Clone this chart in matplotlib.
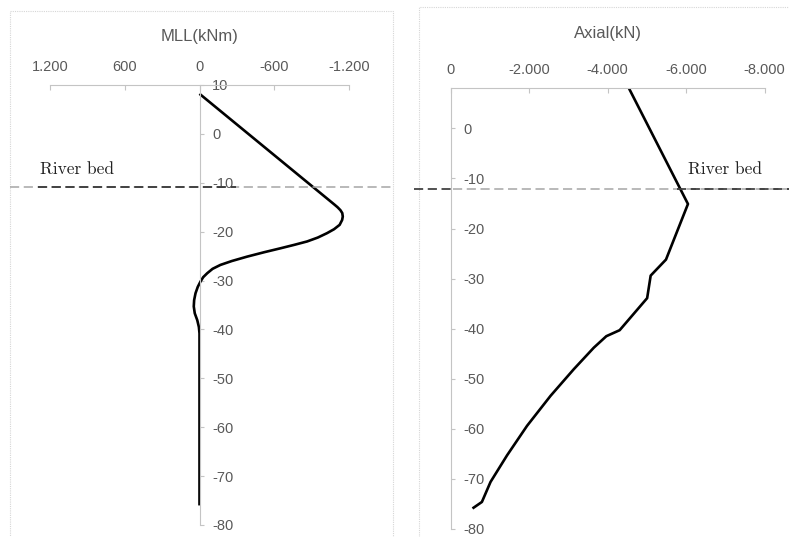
import matplotlib
matplotlib.use("Agg")
import matplotlib.pyplot as plt
from matplotlib.lines import Line2D
from matplotlib.patches import Rectangle
from matplotlib.ticker import FixedLocator, FuncFormatter

# Bending moment profile along the pile (elevation m, moment kNm)
mll_elev = [8.2, -14.5, -15.0, -15.6, -16.2, -16.9, -17.6, -18.6, -19.5, -20.3,
            -21.2, -22.0, -22.7, -23.4, -24.2, -25.1, -26.0, -26.8, -27.6, -28.5,
            -29.3, -30.2, -31.3, -32.6, -34.0, -35.3, -36.7, -38.1, -39.5, -40.8,
            -76.0]
mll_moment = [0, -1085, -1108, -1131, -1146, -1150, -1145, -1125, -1080, -1024,
              -950, -864, -760, -650, -520, -383, -260, -168, -105, -62,
              -30, -8, 14, 32, 43, 46, 38, 18, 5, 0,
              0]

# Axial force profile (elevation m, force kN)
axial_elev = [8.1, -15.1, -26.2, -29.4, -33.9, -40.3, -41.5, -43.8, -48.1, -53.4,
              -59.4, -65.3, -70.6, -74.6, -75.9]
axial_force = [-4540, -6050, -5490, -5100, -5010, -4310, -3970, -3650, -3140, -2550,
               -1950, -1440, -1020, -800, -560]

mll_xticks = [1200, 600, 0, -600, -1200]
axial_xticks = [0, -2000, -4000, -6000, -8000]
mll_yticks = [10, 0, -10, -20, -30, -40, -50, -60, -70, -80]
axial_yticks = [0, -10, -20, -30, -40, -50, -60, -70, -80]

W, H = 789, 537
TXT = "#595959"
AXC = "#c4c4c4"


def thousands(v, _pos=None):
    s = f"{abs(int(round(v))):,}".replace(",", ".")
    return ("-" if v < 0 else "") + s


def fx(px):
    return px / W


def fy(py):
    return 1 - py / H


fig = plt.figure(figsize=(W / 100, H / 100), dpi=100)
plt.rcParams["font.family"] = ["Liberation Sans", "DejaVu Sans"]

# chart area frames
for x0, y0, x1 in [(10, 11, 393), (419, 7, 790)]:
    fig.add_artist(Rectangle((fx(x0), fy(H + 5)), fx(x1) - fx(x0), fy(y0) - fy(H + 5),
                             transform=fig.transFigure, fill=False,
                             edgecolor="#d6d6d6", lw=0.8, ls=(0, (1, 1))))


def style_axes(ax, xticks, yticks, xlim, ylim, title, title_y):
    ax.set_xlim(*xlim)
    ax.set_ylim(*ylim)
    for s in ["left", "bottom"]:
        ax.spines[s].set_visible(False)
    ax.spines["top"].set_color(AXC)
    ax.spines["right"].set_color(AXC)
    ax.spines["right"].set_position(("data", 0))
    ax.xaxis.tick_top()
    ax.yaxis.tick_right()
    ax.xaxis.set_major_locator(FixedLocator(xticks))
    ax.yaxis.set_major_locator(FixedLocator(yticks))
    ax.xaxis.set_major_formatter(FuncFormatter(thousands))
    ax.yaxis.set_major_formatter(FuncFormatter(lambda v, p: thousands(v)))
    ax.tick_params(axis="x", direction="in", length=3.5, width=0.8, color=AXC,
                   labelcolor=TXT, labelsize=10.5, pad=8)
    ax.tick_params(axis="y", direction="out", length=3, width=0.8, color=AXC,
                   labelcolor=TXT, labelsize=10.5, pad=6)
    ax.text(0.5, title_y, title, transform=ax.transAxes, ha="center", va="baseline",
            fontsize=12, color=TXT)
    ax.patch.set_alpha(0)


# moment chart
ax1 = fig.add_axes([fx(50), fy(525), fx(349) - fx(50), fy(85) - fy(525)])
style_axes(ax1, mll_xticks, mll_yticks, (1200, -1200), (-80, 10), "MLL(kNm)", 1.1)
ax1.plot(mll_moment, mll_elev, color="black", lw=1.9, solid_joinstyle="round",
         solid_capstyle="butt")

# axial chart
ax2 = fig.add_axes([fx(450.5), fy(529.0), fx(764.5) - fx(450.5), fy(87.8) - fy(529.0)])
style_axes(ax2, axial_xticks, axial_yticks, (0, -8000), (-80, 8.1), "Axial(kN)", 1.112)
ax2.plot(axial_force, axial_elev, color="black", lw=1.9, solid_joinstyle="round",
         solid_capstyle="butt")

# river bed markers
dash = (0, (6, 3))
for (x0, x1, y, c) in [(10, 393, 187, "#a6a6a6"), (38, 236, 187, "#222222"),
                       (453, 789, 189, "#a6a6a6"), (414, 452, 189, "#222222"),
                       (677, 789, 189, "#222222")]:
    fig.add_artist(Line2D([fx(x0), fx(x1)], [fy(y), fy(y)], transform=fig.transFigure,
                          color=c, lw=1.1, ls=dash))

for x, y in [(40, 174), (688, 174)]:
    fig.text(fx(x), fy(y), "River bed", family="cmr10", fontsize=12.5,
             color="#222222", ha="left", va="baseline")

fig.savefig("out.png", dpi=100)
